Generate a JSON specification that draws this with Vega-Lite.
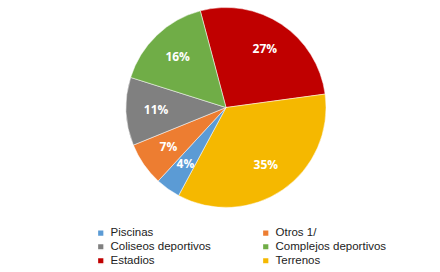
{
  "$schema": "https://vega.github.io/schema/vega-lite/v6.json",
  "width": 418,
  "height": 205,
  "padding": {"left": 17, "right": 5, "top": 5, "bottom": 4},
  "background": "white",
  "data": {"values": [
    {"cat": "Estadios", "value": 27, "ord": 1, "label": "27%"},
    {"cat": "Terrenos", "value": 35, "ord": 2, "label": "35%"},
    {"cat": "Piscinas", "value": 4, "ord": 3, "label": "4%"},
    {"cat": "Otros 1/", "value": 7, "ord": 4, "label": "7%"},
    {"cat": "Coliseos deportivos", "value": 11, "ord": 5, "label": "11%"},
    {"cat": "Complejos deportivos", "value": 16, "ord": 6, "label": "16%"}
  ]},
  "encoding": {
    "theta": {"field": "value", "type": "quantitative", "stack": true, "scale": {"range": [-0.26, 6.0232]}},
    "order": {"field": "ord", "type": "quantitative"},
    "color": {
      "field": "cat", "type": "nominal",
      "scale": {
        "domain": ["Piscinas", "Otros 1/", "Coliseos deportivos", "Complejos deportivos", "Estadios", "Terrenos"],
        "range": ["#5B9BD5", "#ED7D31", "#808080", "#70AD47", "#C00000", "#F5B800"]
      },
      "legend": {
        "orient": "none", "direction": "horizontal", "legendX": 78, "legendY": 222, "columns": 2, "title": null, "symbolType": "square", "symbolSize": 45,
        "labelFont": "Liberation Sans", "labelFontSize": 11.5, "labelColor": "#222222",
        "columnPadding": 48, "rowPadding": 0
      }
    }
  },
  "layer": [
    {"mark": {"type": "arc", "outerRadius": 100, "stroke": "white", "strokeWidth": 0.5}},
    {"mark": {"type": "text", "radius": 70, "fontWeight": "bold", "fontSize": 12, "font": "Open Sans"},
     "encoding": {"text": {"field": "label"}, "color": {"value": "white"}}}
  ],
  "config": {"view": {"stroke": null}}
}
